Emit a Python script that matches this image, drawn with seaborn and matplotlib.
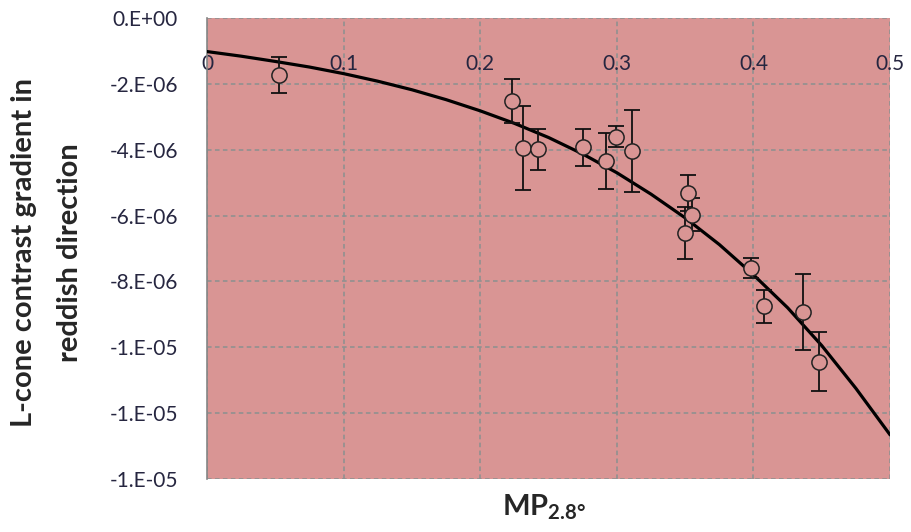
import numpy as np
import pandas as pd
import matplotlib
matplotlib.use("Agg")
import matplotlib.pyplot as plt
import seaborn as sns

# measured points (MP at 2.8 deg vs L-cone contrast gradient)
mp_x = [0.053, 0.223, 0.231, 0.242, 0.275, 0.292, 0.299, 0.311,
        0.352, 0.355, 0.350, 0.398, 0.408, 0.436, 0.448]
grad_y = [-1.73e-6, -2.52e-6, -3.95e-6, -3.99e-6, -3.93e-6, -4.33e-6, -3.60e-6, -4.03e-6,
          -5.32e-6, -5.98e-6, -6.54e-6, -7.60e-6, -8.75e-6, -8.92e-6, -10.44e-6]
grad_err = [0.55e-6, 0.66e-6, 1.27e-6, 0.63e-6, 0.57e-6, 0.85e-6, 0.33e-6, 1.25e-6,
            0.55e-6, 0.50e-6, 0.79e-6, 0.30e-6, 0.50e-6, 1.15e-6, 0.90e-6]

# trend line
fit_x = [0.0, 0.025, 0.05, 0.075, 0.1, 0.125, 0.15, 0.175, 0.2, 0.225, 0.25,
         0.275, 0.3, 0.325, 0.35, 0.375, 0.4, 0.425, 0.45, 0.475, 0.5]
fit_y = [-1.02e-6, -1.16e-6, -1.32e-6, -1.49e-6, -1.69e-6, -1.92e-6, -2.18e-6,
         -2.48e-6, -2.82e-6, -3.20e-6, -3.63e-6, -4.13e-6, -4.70e-6, -5.35e-6,
         -6.07e-6, -6.88e-6, -7.80e-6, -8.80e-6, -9.95e-6, -11.25e-6, -12.66e-6]

x_ticks = [0.0, 0.1, 0.2, 0.3, 0.4, 0.5]
x_tick_labels = ["0", "0.1", "0.2", "0.3", "0.4", "0.5"]
y_ticks = [0.0, -2e-6, -4e-6, -6e-6, -8e-6, -1.0e-5, -1.2e-5, -1.4e-5]
y_tick_labels = ["0.E+00", "-2.E-06", "-4.E-06", "-6.E-06", "-8.E-06",
                 "-1.E-05", "-1.E-05", "-1.E-05"]

sns.set_style("white")
plt.rcParams["font.family"] = ["Lato", "DejaVu Sans"]
plt.rcParams["mathtext.fontset"] = "custom"
plt.rcParams["mathtext.rm"] = "Lato"
plt.rcParams["mathtext.bf"] = "Lato:bold"

pts = pd.DataFrame({"mp": mp_x, "grad": grad_y})
fit = pd.DataFrame({"mp": fit_x, "grad": fit_y})

fig = plt.figure(figsize=(9.12, 5.32), dpi=100)
ax = fig.add_axes([0.227, 0.0996, 0.749, 0.8666])
ax.set_facecolor("#D99594")

grid_kw = dict(color="#8a9090", linewidth=1.1, linestyle=(0, (3, 2.2)))
ax.grid(True, **grid_kw)
ax.set_axisbelow(True)

sns.lineplot(data=fit, x="mp", y="grad", color="black", linewidth=2.3, ax=ax, zorder=3)
ax.errorbar(mp_x, grad_y, yerr=grad_err, fmt="none", ecolor="#111111",
            elinewidth=1.3, capsize=5.5, capthick=1.3, zorder=4)
sns.scatterplot(data=pts, x="mp", y="grad", marker="o", s=120,
                facecolor="#D99594", edgecolor="#222222", linewidth=1.1, ax=ax, zorder=5)

ax.set_xlim(0, 0.5)
ax.set_ylim(-1.4e-5, 0)
ax.set_xticks(x_ticks)
ax.set_xticklabels(x_tick_labels)
ax.set_yticks(y_ticks)
ax.set_yticklabels(y_tick_labels)

ax.xaxis.tick_top()
ax.tick_params(axis="x", length=0, pad=-40, labelsize=15, labelcolor="#262640")
ax.tick_params(axis="y", length=7, width=1, color="#868686", direction="out",
               pad=14, labelsize=15, labelcolor="#262640")

for side in ["top", "right", "bottom"]:
    ax.spines[side].set_visible(False)
ax.spines["left"].set_color("#868686")
ax.spines["left"].set_linewidth(1.2)

ax.set_xlabel("")
ax.set_ylabel("")
fig.text(0.052, 0.525, "L-cone contrast gradient in\nreddish direction", rotation=90,
         ha="center", va="center", multialignment="center", fontsize=21,
         fontweight="bold", linespacing=1.95)
fig.text(0.596, 0.046, r"$\mathbf{MP_{2.8°}}$", ha="center", va="center", fontsize=21)

plt.savefig("out.png", dpi=100)
